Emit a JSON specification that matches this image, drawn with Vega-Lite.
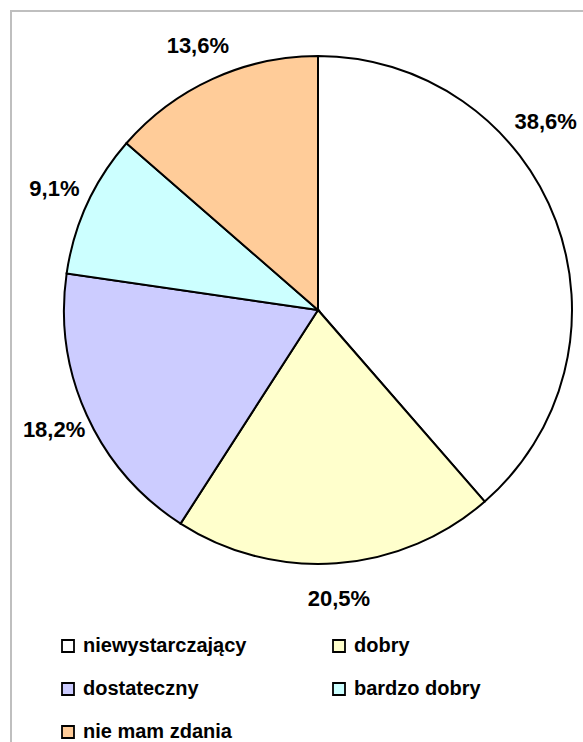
{
  "$schema": "https://vega.github.io/schema/vega-lite/v6.json",
  "width": 576,
  "height": 735,
  "autosize": {"type": "none"},
  "padding": {"left": 11, "top": 11, "right": 0, "bottom": 0},
  "background": "white",
  "view": {"stroke": "#BFBFBF", "strokeWidth": 2},
  "config": {
    "view": {"stroke": "#BFBFBF", "strokeWidth": 2},
    "font": "Liberation Sans"
  },
  "data": {
    "values": [
      {"lp": 1, "ocena": "niewystarczający", "procent": 38.6, "etykieta": "38,6%"},
      {"lp": 2, "ocena": "dobry", "procent": 20.5, "etykieta": "20,5%"},
      {"lp": 3, "ocena": "dostateczny", "procent": 18.2, "etykieta": "18,2%"},
      {"lp": 4, "ocena": "bardzo dobry", "procent": 9.1, "etykieta": "9,1%"},
      {"lp": 5, "ocena": "nie mam zdania", "procent": 13.6, "etykieta": "13,6%"}
    ]
  },
  "encoding": {
    "theta": {"field": "procent", "type": "quantitative", "stack": true},
    "order": {"field": "lp", "type": "quantitative"}
  },
  "layer": [
    {
      "mark": {"type": "arc", "x": 307, "y": 299, "outerRadius": 254, "stroke": "black", "strokeWidth": 2},
      "encoding": {
        "color": {
          "field": "ocena",
          "type": "nominal",
          "sort": null,
          "scale": {
            "domain": ["niewystarczający", "dobry", "dostateczny", "bardzo dobry", "nie mam zdania"],
            "range": ["#FFFFFF", "#FFFFCC", "#CCCCFF", "#CCFFFF", "#FFCC99"]
          },
          "legend": {
            "orient": "none",
            "legendX": 47,
            "legendY": 625,
            "direction": "horizontal",
            "columns": 2,
            "title": null,
            "symbolType": "square",
            "symbolSize": 144,
            "symbolStrokeColor": "black",
            "symbolStrokeWidth": 1.8,
            "labelFont": "Liberation Sans",
            "labelFontSize": 20,
            "labelFontWeight": "bold",
            "labelColor": "black",
            "labelOffset": 5,
            "columnPadding": 82,
            "rowPadding": 23,
            "padding": 0,
            "labelLimit": 300
          }
        }
      }
    },
    {
      "mark": {"type": "text", "x": 307, "y": 299, "radius": 290, "fontSize": 22, "fontWeight": "bold", "font": "Liberation Sans", "color": "black", "align": "center", "baseline": "middle"},
      "encoding": {
        "text": {"condition": {"test": "datum.lp != 1", "field": "etykieta"}, "value": ""}
      }
    },
    {
      "mark": {"type": "text", "x": 307, "y": 299, "radius": 290, "dx": -44, "dy": -86, "fontSize": 22, "fontWeight": "bold", "font": "Liberation Sans", "color": "black", "align": "center", "baseline": "middle"},
      "encoding": {
        "text": {"condition": {"test": "datum.lp == 1", "field": "etykieta"}, "value": ""}
      }
    }
  ]
}
